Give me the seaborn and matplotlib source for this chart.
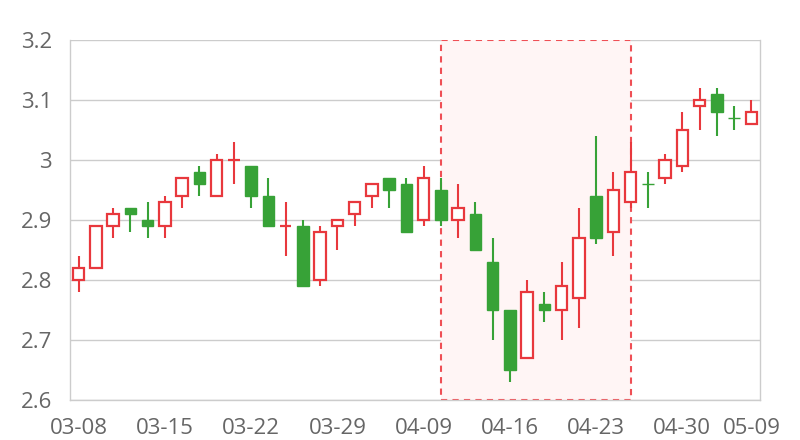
import matplotlib
matplotlib.use('Agg')
import matplotlib.pyplot as plt
import seaborn as sns
import numpy as np
import pandas as pd

dates = ['03-08', '03-11', '03-12', '03-13', '03-14', '03-15', '03-18', '03-19', '03-20', '03-21',
         '03-22', '03-25', '03-26', '03-27', '03-28', '03-29', '04-01', '04-02', '04-03', '04-08',
         '04-09', '04-10', '04-11', '04-12', '04-15', '04-16', '04-17', '04-18', '04-19', '04-22',
         '04-23', '04-24', '04-25', '04-26', '04-29', '04-30', '05-06', '05-07', '05-08', '05-09']
open_ = [2.80, 2.82, 2.89, 2.92, 2.90, 2.89, 2.94, 2.98, 2.94, 3.00,
         2.99, 2.94, 2.89, 2.89, 2.80, 2.89, 2.91, 2.94, 2.97, 2.96,
         2.90, 2.95, 2.90, 2.91, 2.83, 2.75, 2.67, 2.76, 2.75, 2.77,
         2.94, 2.88, 2.93, 2.96, 2.97, 2.99, 3.09, 3.11, 3.07, 3.06]
close = [2.82, 2.89, 2.91, 2.91, 2.89, 2.93, 2.97, 2.96, 3.00, 3.00,
         2.94, 2.89, 2.89, 2.79, 2.88, 2.90, 2.93, 2.96, 2.95, 2.88,
         2.97, 2.90, 2.92, 2.85, 2.75, 2.65, 2.78, 2.75, 2.79, 2.87,
         2.87, 2.95, 2.98, 2.96, 3.00, 3.05, 3.10, 3.08, 3.07, 3.08]
low = [2.78, 2.82, 2.87, 2.88, 2.87, 2.87, 2.92, 2.94, 2.94, 2.96,
       2.92, 2.89, 2.84, 2.79, 2.79, 2.85, 2.89, 2.92, 2.92, 2.88,
       2.89, 2.89, 2.87, 2.85, 2.70, 2.63, 2.67, 2.73, 2.70, 2.72,
       2.86, 2.84, 2.92, 2.92, 2.96, 2.98, 3.05, 3.04, 3.05, 3.06]
high = [2.84, 2.89, 2.92, 2.92, 2.93, 2.94, 2.97, 2.99, 3.01, 3.03,
        2.99, 2.97, 2.93, 2.90, 2.89, 2.90, 2.93, 2.96, 2.97, 2.97,
        2.99, 2.97, 2.96, 2.93, 2.87, 2.75, 2.80, 2.78, 2.83, 2.92,
        3.04, 2.98, 3.03, 2.98, 3.01, 3.08, 3.12, 3.12, 3.09, 3.10]
shown_labels = ['03-08', '03-15', '03-22', '03-29', '04-09', '04-16', '04-23', '04-30', '05-09']
area_start, area_end = '04-10', '04-25'

RED = '#e8383d'
GREEN = '#37a237'

df = pd.DataFrame({'date': dates, 'open': open_, 'close': close, 'low': low, 'high': high})
df['x'] = np.arange(len(df))
# echarts rule: flat candles take the sign from the previous close
prev = df['close'].shift(1).fillna(df['close'])
df['up'] = (df['close'] > df['open']) | ((df['close'] == df['open']) & (prev <= df['close']))

sns.set_theme(style='white')
plt.rcParams['font.family'] = ['Open Sans', 'DejaVu Sans']

fig, ax = plt.subplots(figsize=(8, 4.4), dpi=100)
fig.subplots_adjust(left=0.0875, right=0.95, top=0.909, bottom=0.0909)

# highlighted area
x0 = dates.index(area_start)
x1 = dates.index(area_end)
ax.axvspan(x0, x1, facecolor='#fff5f5', edgecolor='#ef4f55', linestyle=(0, (3, 2.5)),
           linewidth=1.5, zorder=1)

# wicks
for up, col in [(True, RED), (False, GREEN)]:
    d = df[df['up'] == up]
    ax.vlines(d['x'], d['low'], d['high'], color=col, linewidth=1.5, zorder=3)

# bodies
w = 0.66
bottom = np.minimum(df['open'], df['close'])
height = np.maximum(np.abs(df['close'] - df['open']), 0.0005)
ups = df['up'].values
ax.bar(df['x'][ups], height[ups], bottom=bottom[ups], width=w, facecolor='white',
       edgecolor=RED, linewidth=1.6, zorder=4)
ax.bar(df['x'][~ups], height[~ups], bottom=bottom[~ups], width=w, facecolor=GREEN,
       edgecolor=GREEN, linewidth=1.0, zorder=4)

ax.set_xlim(-0.5, len(df) - 0.5)
ax.set_ylim(2.6, 3.2)
ax.set_yticks([2.6, 2.7, 2.8, 2.9, 3.0, 3.1, 3.2])
ax.set_yticklabels(['2.6', '2.7', '2.8', '2.9', '3', '3.1', '3.2'])
ax.set_xticks([dates.index(l) for l in shown_labels])
ax.set_xticklabels(shown_labels)
ax.tick_params(axis='both', length=0, labelsize=16, colors='#666666')
ax.tick_params(axis='y', pad=13)
ax.tick_params(axis='x', pad=13)
ax.grid(axis='y', color='#cccccc', linewidth=1)
ax.set_axisbelow(True)
for s in ['left', 'right', 'bottom']:
    ax.spines[s].set_color('#cccccc')
    ax.spines[s].set_linewidth(1)
ax.spines['top'].set_visible(False)

fig.savefig('out.png', dpi=100, facecolor='white')
plt.close(fig)
